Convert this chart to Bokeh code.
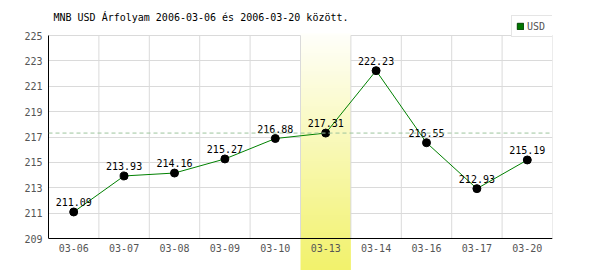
import numpy as np
from bokeh.plotting import figure
from bokeh.models import (ColumnDataSource, Span, Label, Legend, LegendItem,
                          FixedTicker, Range1d)
from bokeh.core.properties import value
from bokeh.embed import file_html
from bokeh.resources import INLINE

# ---- data ----
dates = ["03-06", "03-07", "03-08", "03-09", "03-10",
         "03-13", "03-14", "03-16", "03-17", "03-20"]
rates = [211.09, 213.93, 214.16, 215.27, 216.88,
         217.31, 222.23, 216.55, 212.93, 215.19]
value_labels = [f"{v:.2f}" for v in rates]
highlight_date = "03-13"
y_ticks = [209, 211, 213, 215, 217, 219, 221, 223, 225]
title_text = "MNB USD Árfolyam 2006-03-06 és 2006-03-20 között."
series_name = "USD"

# ---- layout ----
n = len(dates)
xs = [i + 0.5 for i in range(n)]
hi = dates.index(highlight_date)
y_lo, y_hi = y_ticks[0], y_ticks[-1]
ppu = (238 - 35) / (y_hi - y_lo)
y_start = y_lo - 32 / ppu
y_end = y_hi + 35 / ppu

FONT = value("DejaVu Sans Mono")

p = figure(width=600, height=270, x_range=Range1d(0, n),
           y_range=Range1d(y_start, y_end), output_backend="svg",
           toolbar_location=None, x_axis_location=None,
           min_border_left=48, min_border_right=48,
           min_border_top=0, min_border_bottom=0)
p.outline_line_color = None
p.xgrid.visible = False

p.yaxis.ticker = FixedTicker(ticks=y_ticks)
p.yaxis.bounds = (y_lo, y_hi)
p.yaxis.axis_line_color = "black"
p.yaxis.major_tick_in = 0
p.yaxis.major_tick_out = 0
p.yaxis.minor_tick_line_color = None
p.yaxis.major_label_standoff = 6
p.yaxis.major_label_text_font = "DejaVu Sans Mono"
p.yaxis.major_label_text_font_size = "10px"
p.yaxis.major_label_text_color = "#555555"

p.ygrid.ticker = FixedTicker(ticks=y_ticks)
p.ygrid.grid_line_color = "#dadada"

# highlight column with gradient
H = 120
img = np.zeros((H, 1), dtype=np.uint32)
view = img.view(dtype=np.uint8).reshape((H, 1, 4))
bottom_c = np.array([242, 242, 108], dtype=float)
top_c = np.array([255, 255, 250], dtype=float)
for r in range(H):
    t = r / (H - 1)
    c = bottom_c * (1 - t) + top_c * t
    view[r, 0, 0:3] = c.astype(np.uint8)
    view[r, 0, 3] = 255
hl_top = y_hi + 2 / ppu
p.image_rgba(image=[img], x=hi, y=y_start, dw=1, dh=hl_top - y_start)

# vertical grid lines at category boundaries
bx = list(range(1, n + 1))
p.segment(x0=bx, y0=[y_lo] * n, x1=bx, y1=[y_hi] * n,
          line_color="#dadada", line_width=1)

# reference dashed line at highlighted value
p.add_layout(Span(location=rates[hi], dimension="width",
                  line_color="#9cc49c", line_dash="4 3", line_width=1))
# x axis line
p.add_layout(Span(location=y_lo, dimension="width",
                  line_color="black", line_width=1))

p.line(xs, rates, line_color="#008000", line_width=1)
p.scatter(xs, rates, size=8, fill_color="black", line_color="black")

p.text(xs, rates, text=value_labels, text_align="center",
       text_baseline="bottom", y_offset=-6, text_font=FONT,
       text_font_size="10px", text_color="black")

p.text(xs, [y_lo] * n, text=dates, text_align="center",
       text_baseline="middle", y_offset=9, text_font=FONT,
       text_font_size="10px", text_color="#555555")

p.add_layout(Label(x=5, y=253, x_units="screen", y_units="screen",
                   text=title_text, text_font="DejaVu Sans Mono",
                   text_font_size="10px", text_color="black",
                   text_baseline="middle"))

# legend proxy (zero-size quad, outside the visible range)
leg_src = ColumnDataSource(dict(l=[0], r=[0], b=[0], t=[0]))
leg_r = p.quad(left="l", right="r", bottom="b", top="t", source=leg_src,
               fill_color="#007700", line_color="#004400")
legend = Legend(items=[LegendItem(label=series_name, renderers=[leg_r])],
                location=(463, 233), orientation="vertical",
                glyph_width=8, glyph_height=8, label_height=12,
                label_width=23, label_standoff=3, padding=4, margin=0,
                spacing=0, border_line_color="#cccccc",
                background_fill_alpha=1,
                label_text_font="DejaVu Sans Mono",
                label_text_font_size="10px", label_text_color="#555555")
p.add_layout(legend, "center")

open("out.html", "w").write(file_html(p, INLINE))
